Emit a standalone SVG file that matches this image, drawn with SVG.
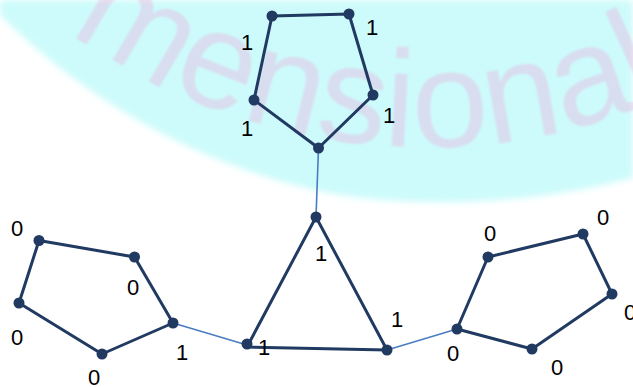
<svg xmlns="http://www.w3.org/2000/svg" width="633" height="387" viewBox="0 0 633 387">
  <style>
    .edge { stroke: #213A62; stroke-width: 3; fill: none; stroke-linejoin: round; }
    .node { fill: #213A62; }
    .conn { stroke: #4A7CC4; stroke-width: 1.6; fill: none; }
    .lbl { font-family: "Liberation Sans", Arial, sans-serif; font-size: 22px; fill: #000; text-anchor: middle; }
    .wm { font-family: "Liberation Sans", Arial, sans-serif; font-size: 138px; fill: #F0A0D4; fill-opacity: 0.33; }
  </style>
  <defs>
    <filter id="soft" x="-5%" y="-5%" width="110%" height="110%">
      <feGaussianBlur stdDeviation="3"/>
    </filter>
    <filter id="softer" x="-5%" y="-5%" width="110%" height="110%">
      <feGaussianBlur stdDeviation="1"/>
    </filter>
    <path id="wmPath" d="M 60,24 C 230,155 480,188 670,92"/>
  </defs>
  <rect width="633" height="387" fill="#ffffff"/>
  <g id="background">
    <path d="M0,0 L0,15 C 80,95 200,170 340,195 C 440,210 550,200 633,178 L633,0 Z" fill="#CDFBFB" filter="url(#soft)"/>
    <text class="wm" filter="url(#softer)"><textPath href="#wmPath" startOffset="12">mensional</textPath></text>
  </g>
  <g id="connectors">
    <line class="conn" x1="318.5" y1="148" x2="316" y2="217"/>
    <line class="conn" x1="173" y1="323" x2="247" y2="345"/>
    <line class="conn" x1="387" y1="350" x2="457" y2="329"/>
  </g>
  <g id="top-ring">
    <polygon class="edge" points="272,16 349,14 373,95 318.5,148 254,100"/>
    <circle class="node" cx="272" cy="16" r="5.5"/>
    <circle class="node" cx="349" cy="14" r="5.5"/>
    <circle class="node" cx="373" cy="95" r="5.5"/>
    <circle class="node" cx="318.5" cy="148" r="5.5"/>
    <circle class="node" cx="254" cy="100" r="5.5"/>
    <text class="lbl" x="247" y="50">1</text>
    <text class="lbl" x="372" y="35">1</text>
    <text class="lbl" x="389" y="123">1</text>
    <text class="lbl" x="247" y="136">1</text>
  </g>
  <g id="triangle">
    <polygon class="edge" points="316,217 247,347 387,350"/>
    <circle class="node" cx="316" cy="217" r="5.5"/>
    <circle class="node" cx="247" cy="344" r="5.5"/>
    <circle class="node" cx="387" cy="350" r="5.5"/>
    <text class="lbl" x="321" y="261">1</text>
    <text class="lbl" x="397" y="327">1</text>
    <text class="lbl" x="264" y="355">1</text>
  </g>
  <g id="left-ring">
    <polygon class="edge" points="39,240.5 134.5,257 173,323 102,354 19,303"/>
    <circle class="node" cx="39" cy="240.5" r="5.5"/>
    <circle class="node" cx="134.5" cy="257" r="5.5"/>
    <circle class="node" cx="173" cy="323" r="5.5"/>
    <circle class="node" cx="102" cy="354" r="5.5"/>
    <circle class="node" cx="19" cy="303" r="5.5"/>
    <text class="lbl" x="17" y="236">0</text>
    <text class="lbl" x="133" y="295">0</text>
    <text class="lbl" x="17" y="345">0</text>
    <text class="lbl" x="94" y="385">0</text>
    <text class="lbl" x="182" y="360">1</text>
  </g>
  <g id="right-ring">
    <polygon class="edge" points="488,257 583,234 612,294 532,349 457,329"/>
    <circle class="node" cx="488" cy="257" r="5.5"/>
    <circle class="node" cx="583" cy="234" r="5.5"/>
    <circle class="node" cx="612" cy="294" r="5.5"/>
    <circle class="node" cx="532" cy="349" r="5.5"/>
    <circle class="node" cx="457" cy="329" r="5.5"/>
    <text class="lbl" x="490" y="241">0</text>
    <text class="lbl" x="603" y="225">0</text>
    <text class="lbl" x="630" y="320">0</text>
    <text class="lbl" x="453" y="361">0</text>
    <text class="lbl" x="557" y="375">0</text>
  </g>
</svg>
